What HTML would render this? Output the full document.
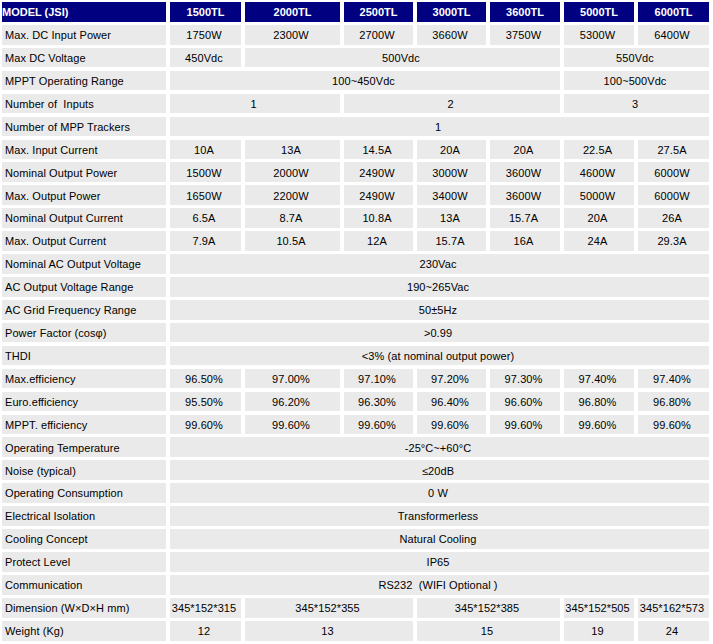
<!DOCTYPE html>
<html><head><meta charset="utf-8">
<style>
html,body{margin:0;padding:0;background:#fff;width:713px;height:644px;overflow:hidden;position:relative}
div{position:absolute;height:20px;line-height:20px;font-family:"Liberation Sans",sans-serif;font-size:11px;text-align:center;white-space:nowrap;overflow:hidden}
.c{background:#eaeaea;color:#000;padding-right:3px;box-sizing:border-box;letter-spacing:0.08px}
.h{background:#000080;color:#fff;font-weight:bold}
.l{text-align:left;padding-left:3px;padding-right:0;box-sizing:border-box}
.h.l{padding-left:0}
</style></head><body>
<div class="h l" style="left:2px;top:2px;width:164px;height:20px">MODEL (JSI)</div>
<div class="h" style="left:170px;top:2px;width:71px;height:20px">1500TL</div>
<div class="h" style="left:245px;top:2px;width:95px;height:20px">2000TL</div>
<div class="h" style="left:344px;top:2px;width:69px;height:20px">2500TL</div>
<div class="h" style="left:417px;top:2px;width:69px;height:20px">3000TL</div>
<div class="h" style="left:490px;top:2px;width:70px;height:20px">3600TL</div>
<div class="h" style="left:564px;top:2px;width:70px;height:20px">5000TL</div>
<div class="h" style="left:638px;top:2px;width:71px;height:20px">6000TL</div>
<div class="c l" style="left:2px;top:25px;width:164px;height:20px">Max. DC Input Power</div>
<div class="c" style="left:170px;top:25px;width:71px;height:20px">1750W</div>
<div class="c" style="left:245px;top:25px;width:95px;height:20px">2300W</div>
<div class="c" style="left:344px;top:25px;width:69px;height:20px">2700W</div>
<div class="c" style="left:417px;top:25px;width:69px;height:20px">3660W</div>
<div class="c" style="left:490px;top:25px;width:70px;height:20px">3750W</div>
<div class="c" style="left:564px;top:25px;width:70px;height:20px">5300W</div>
<div class="c" style="left:638px;top:25px;width:71px;height:20px">6400W</div>
<div class="c l" style="left:2px;top:48px;width:164px;height:19px">Max DC Voltage</div>
<div class="c" style="left:170px;top:48px;width:71px;height:19px">450Vdc</div>
<div class="c" style="left:245px;top:48px;width:315px;height:19px">500Vdc</div>
<div class="c" style="left:564px;top:48px;width:145px;height:19px">550Vdc</div>
<div class="c l" style="left:2px;top:71px;width:164px;height:19px">MPPT Operating Range</div>
<div class="c" style="left:170px;top:71px;width:390px;height:19px">100~450Vdc</div>
<div class="c" style="left:564px;top:71px;width:145px;height:19px">100~500Vdc</div>
<div class="c l" style="left:2px;top:94px;width:164px;height:19px">Number of&nbsp; Inputs</div>
<div class="c" style="left:170px;top:94px;width:170px;height:19px">1</div>
<div class="c" style="left:344px;top:94px;width:216px;height:19px">2</div>
<div class="c" style="left:564px;top:94px;width:145px;height:19px">3</div>
<div class="c l" style="left:2px;top:117px;width:164px;height:19px">Number of MPP Trackers</div>
<div class="c" style="left:170px;top:117px;width:539px;height:19px">1</div>
<div class="c l" style="left:2px;top:140px;width:164px;height:19px">Max. Input Current</div>
<div class="c" style="left:170px;top:140px;width:71px;height:19px">10A</div>
<div class="c" style="left:245px;top:140px;width:95px;height:19px">13A</div>
<div class="c" style="left:344px;top:140px;width:69px;height:19px">14.5A</div>
<div class="c" style="left:417px;top:140px;width:69px;height:19px">20A</div>
<div class="c" style="left:490px;top:140px;width:70px;height:19px">20A</div>
<div class="c" style="left:564px;top:140px;width:70px;height:19px">22.5A</div>
<div class="c" style="left:638px;top:140px;width:71px;height:19px">27.5A</div>
<div class="c l" style="left:2px;top:162px;width:164px;height:20px;padding-top:1px">Nominal Output Power</div>
<div class="c" style="left:170px;top:162px;width:71px;height:20px;padding-top:1px">1500W</div>
<div class="c" style="left:245px;top:162px;width:95px;height:20px;padding-top:1px">2000W</div>
<div class="c" style="left:344px;top:162px;width:69px;height:20px;padding-top:1px">2490W</div>
<div class="c" style="left:417px;top:162px;width:69px;height:20px;padding-top:1px">3000W</div>
<div class="c" style="left:490px;top:162px;width:70px;height:20px;padding-top:1px">3600W</div>
<div class="c" style="left:564px;top:162px;width:70px;height:20px;padding-top:1px">4600W</div>
<div class="c" style="left:638px;top:162px;width:71px;height:20px;padding-top:1px">6000W</div>
<div class="c l" style="left:2px;top:185px;width:164px;height:20px;padding-top:1px">Max. Output Power</div>
<div class="c" style="left:170px;top:185px;width:71px;height:20px;padding-top:1px">1650W</div>
<div class="c" style="left:245px;top:185px;width:95px;height:20px;padding-top:1px">2200W</div>
<div class="c" style="left:344px;top:185px;width:69px;height:20px;padding-top:1px">2490W</div>
<div class="c" style="left:417px;top:185px;width:69px;height:20px;padding-top:1px">3400W</div>
<div class="c" style="left:490px;top:185px;width:70px;height:20px;padding-top:1px">3600W</div>
<div class="c" style="left:564px;top:185px;width:70px;height:20px;padding-top:1px">5000W</div>
<div class="c" style="left:638px;top:185px;width:71px;height:20px;padding-top:1px">6000W</div>
<div class="c l" style="left:2px;top:208px;width:164px;height:20px">Nominal Output Current</div>
<div class="c" style="left:170px;top:208px;width:71px;height:20px">6.5A</div>
<div class="c" style="left:245px;top:208px;width:95px;height:20px">8.7A</div>
<div class="c" style="left:344px;top:208px;width:69px;height:20px">10.8A</div>
<div class="c" style="left:417px;top:208px;width:69px;height:20px">13A</div>
<div class="c" style="left:490px;top:208px;width:70px;height:20px">15.7A</div>
<div class="c" style="left:564px;top:208px;width:70px;height:20px">20A</div>
<div class="c" style="left:638px;top:208px;width:71px;height:20px">26A</div>
<div class="c l" style="left:2px;top:231px;width:164px;height:20px">Max. Output Current</div>
<div class="c" style="left:170px;top:231px;width:71px;height:20px">7.9A</div>
<div class="c" style="left:245px;top:231px;width:95px;height:20px">10.5A</div>
<div class="c" style="left:344px;top:231px;width:69px;height:20px">12A</div>
<div class="c" style="left:417px;top:231px;width:69px;height:20px">15.7A</div>
<div class="c" style="left:490px;top:231px;width:70px;height:20px">16A</div>
<div class="c" style="left:564px;top:231px;width:70px;height:20px">24A</div>
<div class="c" style="left:638px;top:231px;width:71px;height:20px">29.3A</div>
<div class="c l" style="left:2px;top:254px;width:164px;height:20px">Nominal AC Output Voltage</div>
<div class="c" style="left:170px;top:254px;width:539px;height:20px">230Vac</div>
<div class="c l" style="left:2px;top:277px;width:164px;height:20px">AC Output Voltage Range</div>
<div class="c" style="left:170px;top:277px;width:539px;height:20px">190~265Vac</div>
<div class="c l" style="left:2px;top:300px;width:164px;height:20px">AC Grid Frequency Range</div>
<div class="c" style="left:170px;top:300px;width:539px;height:20px">50±5Hz</div>
<div class="c l" style="left:2px;top:323px;width:164px;height:19px">Power Factor (cosφ)</div>
<div class="c" style="left:170px;top:323px;width:539px;height:19px">&gt;0.99</div>
<div class="c l" style="left:2px;top:346px;width:164px;height:19px">THDI</div>
<div class="c" style="left:170px;top:346px;width:539px;height:19px">&lt;3% (at nominal output power)</div>
<div class="c l" style="left:2px;top:369px;width:164px;height:19px">Max.efficiency</div>
<div class="c" style="left:170px;top:369px;width:71px;height:19px">96.50%</div>
<div class="c" style="left:245px;top:369px;width:95px;height:19px">97.00%</div>
<div class="c" style="left:344px;top:369px;width:69px;height:19px">97.10%</div>
<div class="c" style="left:417px;top:369px;width:69px;height:19px">97.20%</div>
<div class="c" style="left:490px;top:369px;width:70px;height:19px">97.30%</div>
<div class="c" style="left:564px;top:369px;width:70px;height:19px">97.40%</div>
<div class="c" style="left:638px;top:369px;width:71px;height:19px">97.40%</div>
<div class="c l" style="left:2px;top:392px;width:164px;height:19px">Euro.efficiency</div>
<div class="c" style="left:170px;top:392px;width:71px;height:19px">95.50%</div>
<div class="c" style="left:245px;top:392px;width:95px;height:19px">96.20%</div>
<div class="c" style="left:344px;top:392px;width:69px;height:19px">96.30%</div>
<div class="c" style="left:417px;top:392px;width:69px;height:19px">96.40%</div>
<div class="c" style="left:490px;top:392px;width:70px;height:19px">96.60%</div>
<div class="c" style="left:564px;top:392px;width:70px;height:19px">96.80%</div>
<div class="c" style="left:638px;top:392px;width:71px;height:19px">96.80%</div>
<div class="c l" style="left:2px;top:415px;width:164px;height:19px">MPPT. efficiency</div>
<div class="c" style="left:170px;top:415px;width:71px;height:19px">99.60%</div>
<div class="c" style="left:245px;top:415px;width:95px;height:19px">99.60%</div>
<div class="c" style="left:344px;top:415px;width:69px;height:19px">99.60%</div>
<div class="c" style="left:417px;top:415px;width:69px;height:19px">99.60%</div>
<div class="c" style="left:490px;top:415px;width:70px;height:19px">99.60%</div>
<div class="c" style="left:564px;top:415px;width:70px;height:19px">99.60%</div>
<div class="c" style="left:638px;top:415px;width:71px;height:19px">99.60%</div>
<div class="c l" style="left:2px;top:437px;width:164px;height:20px;padding-top:1px">Operating Temperature</div>
<div class="c" style="left:170px;top:437px;width:539px;height:20px;padding-top:1px">-25°C~+60°C</div>
<div class="c l" style="left:2px;top:460px;width:164px;height:20px;padding-top:1px">Noise (typical)</div>
<div class="c" style="left:170px;top:460px;width:539px;height:20px;padding-top:1px">≤20dB</div>
<div class="c l" style="left:2px;top:483px;width:164px;height:20px">Operating Consumption</div>
<div class="c" style="left:170px;top:483px;width:539px;height:20px">0 W</div>
<div class="c l" style="left:2px;top:506px;width:164px;height:20px">Electrical Isolation</div>
<div class="c" style="left:170px;top:506px;width:539px;height:20px">Transformerless</div>
<div class="c l" style="left:2px;top:529px;width:164px;height:20px">Cooling Concept</div>
<div class="c" style="left:170px;top:529px;width:539px;height:20px">Natural Cooling</div>
<div class="c l" style="left:2px;top:552px;width:164px;height:20px">Protect Level</div>
<div class="c" style="left:170px;top:552px;width:539px;height:20px">IP65</div>
<div class="c l" style="left:2px;top:575px;width:164px;height:20px">Communication</div>
<div class="c" style="left:170px;top:575px;width:539px;height:20px">RS232&nbsp; (WIFI Optional )</div>
<div class="c l" style="left:2px;top:598px;width:164px;height:20px">Dimension (W×D×H mm)</div>
<div class="c" style="left:170px;top:598px;width:71px;height:20px">345*152*315</div>
<div class="c" style="left:245px;top:598px;width:168px;height:20px">345*152*355</div>
<div class="c" style="left:417px;top:598px;width:143px;height:20px">345*152*385</div>
<div class="c" style="left:564px;top:598px;width:70px;height:20px">345*152*505</div>
<div class="c" style="left:638px;top:598px;width:71px;height:20px">345*162*573</div>
<div class="c l" style="left:2px;top:621px;width:164px;height:20px">Weight (Kg)</div>
<div class="c" style="left:170px;top:621px;width:71px;height:20px">12</div>
<div class="c" style="left:245px;top:621px;width:168px;height:20px">13</div>
<div class="c" style="left:417px;top:621px;width:143px;height:20px">15</div>
<div class="c" style="left:564px;top:621px;width:70px;height:20px">19</div>
<div class="c" style="left:638px;top:621px;width:71px;height:20px">24</div>
</body></html>
